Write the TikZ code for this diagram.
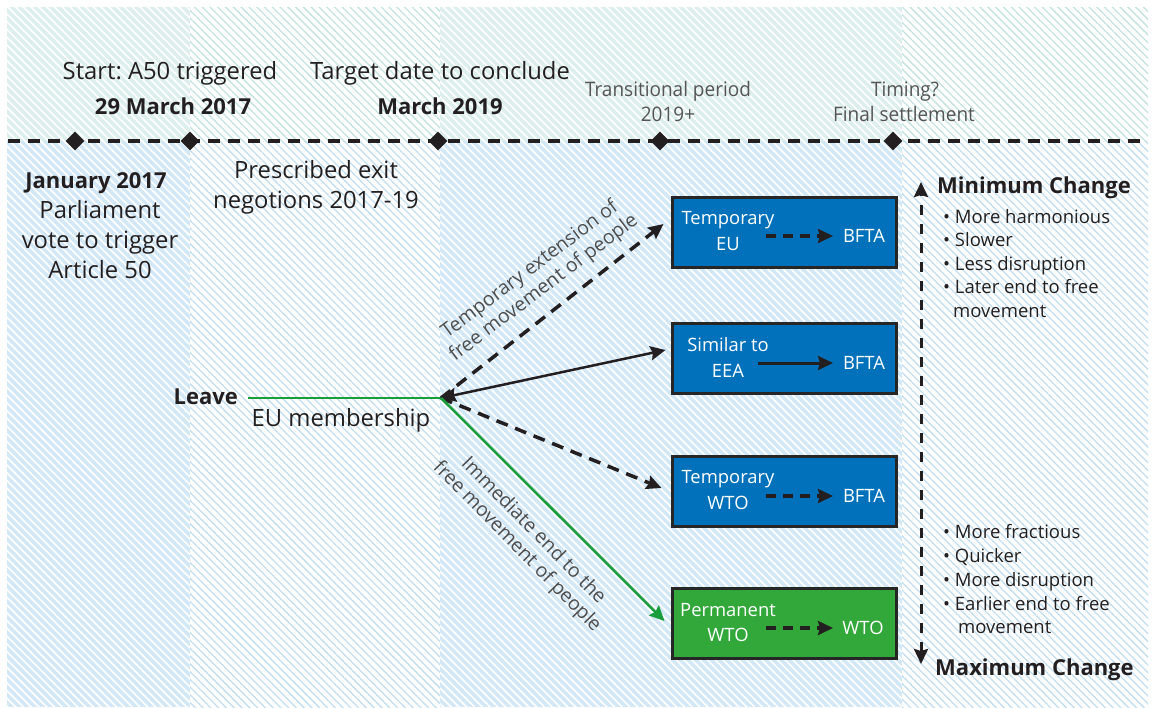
\documentclass[tikz,border=0pt]{standalone}
\usepackage{fontspec}
\setmainfont{Open Sans}
\newfontfamily\condfont[FakeStretch=0.95]{Open Sans}
\usetikzlibrary{patterns.meta,arrows.meta,shapes.geometric,calc}
\frenchspacing
\definecolor{tealbg}{HTML}{DCEFEC}
\definecolor{teall}{HTML}{C2E3DF}
\definecolor{bluebg}{HTML}{D3E8F6}
\definecolor{bluel}{HTML}{C2DEF1}
\definecolor{boxblue}{HTML}{0071BA}
\definecolor{boxgreen}{HTML}{33A83A}
\definecolor{linegreen}{HTML}{1A9E3C}
\definecolor{txt}{HTML}{231F20}
\definecolor{greytxt}{HTML}{4D4D4D}
\definecolor{condtxt}{HTML}{555555}
\definecolor{boxedge}{HTML}{262626}
\begin{document}
\begin{tikzpicture}[x=1pt,y=-1pt,
  hatchW/.style={pattern={Lines[angle=-45,distance=5.5pt,line width=1.7pt]},pattern color=white},
  hatchC/.style={pattern={Lines[angle=-45,distance=5.5pt,line width=1.3pt]},pattern color=#1},
  tx/.style={inner sep=0,text=txt,anchor=base},
  big/.style={font=\fontsize{23.8}{28}\selectfont},
  bigb/.style={font=\fontsize{22}{27}\bfseries\selectfont},
  cond/.style={font=\condfont\fontsize{20}{25}\selectfont,text=condtxt},
  inbox/.style={inner sep=0,text=white,anchor=base,font=\fontsize{18.4}{22}\selectfont},
  lst/.style={inner sep=0,text=txt,anchor=base west,font=\fontsize{18.5}{22}\selectfont},
  diag/.style={inner sep=0,text=greytxt,align=center,font=\fontsize{19.5}{23}\selectfont},
  dmd/.style={diamond,fill=txt,inner sep=0,minimum width=19pt,minimum height=19pt},
  box/.style={draw=boxedge,line width=3pt,minimum width=224pt,minimum height=70pt,inner sep=0},
  tip/.style={-{Stealth[length=15pt,width=14pt,inset=2pt]}},
  dtip/.style={{Stealth[length=15pt,width=14pt,inset=2pt]}-{Stealth[length=15pt,width=14pt,inset=2pt]}},
  dsh/.style={dash pattern=on 12pt off 8pt},
  hbold/.style={inner sep=0,text=txt,anchor=base west,font=\fontsize{22}{27}\bfseries\selectfont},
]
\useasboundingbox (0,0) rectangle (1155,707);
% backgrounds
\fill[tealbg] (7,7) rectangle (190,141);
\fill[tealbg] (440,7) rectangle (902,141);
\fill[bluebg] (7,141) rectangle (190,707);
\fill[bluebg] (440,141) rectangle (902,707);
\fill[hatchW] (7,7) rectangle (190,141);
\fill[hatchW] (440,7) rectangle (902,141);
\fill[hatchW] (7,141) rectangle (190,707);
\fill[hatchW] (440,141) rectangle (902,707);
\fill[hatchC=teall] (190,7) rectangle (440,141);
\fill[hatchC=teall] (902,7) rectangle (1148,141);
\fill[hatchC=bluel] (190,141) rectangle (440,707);
\fill[hatchC=bluel] (902,141) rectangle (1148,707);

% timeline
\coordinate (tlL) at (8,141);
\coordinate (tlR) at (1146,141);
\draw[line width=4pt,dash pattern=on 12pt off 8pt,txt] (tlL) -- (tlR);
\node[dmd] (d1) at (75,141) {};
\node[dmd] (d2) at (190,141) {};
\node[dmd] (d3) at (438,141) {};
\node[dmd] (d4) at (660,141) {};
\node[dmd] (d5) at (893,141) {};

% top labels
\node[tx,big] (start) at (170,79) {Start: A50 triggered};
\node[tx,bigb] (startd) at (173,114) {29 March 2017};
\node[tx,big] (target) at (440,79) {Target date to conclude};
\node[tx,bigb] (targetd) at (440,114) {March 2019};
\node[tx,cond] (trans) at (668,96) {Transitional period};
\node[tx,cond] (transd) at (668,121) {2019+};
\node[tx,cond] (timing) at (905,96) {Timing?};
\node[tx,cond] (final) at (904,121) {Final settlement};

% left texts
\node[tx,bigb] (jan) at (96,188) {January 2017};
\node[tx,big] (parl1) at (100,218) {Parliament};
\node[tx,big] (parl2) at (100,248) {vote to trigger};
\node[tx,big] (parl3) at (100,278) {Article 50};
\node[tx,big] (pres1) at (316,178) {Prescribed exit};
\node[tx,big] (pres2) at (316,208) {negotions 2017-19};
\node[inner sep=0,text=txt,anchor=base east,font=\fontsize{22}{27}\bfseries\selectfont] (leave) at (238,404) {Leave};
\node[tx,big] (eum) at (341,426) {EU membership};

% boxes
\node[box,fill=boxblue] (b1) at (784,232) {};
\node[box,fill=boxblue] (b2) at (784,358) {};
\node[box,fill=boxblue] (b3) at (784,491) {};
\node[box,fill=boxgreen] (b4) at (784,623) {};

\node[inbox] (b1a) at (728,224) {Temporary};
\node[inbox] (b1b) at (728,250) {EU};
\node[inbox] (b1c) at (864,242) {BFTA};
\node[inbox] (b2a) at (728,351) {Similar to};
\node[inbox] (b2b) at (728,377) {EEA};
\node[inbox] (b2c) at (864,369) {BFTA};
\node[inbox] (b3a) at (728,483) {Temporary};
\node[inbox] (b3b) at (728,509) {WTO};
\node[inbox] (b3c) at (864,502) {BFTA};
\node[inbox] (b4a) at (728,616) {Permanent};
\node[inbox] (b4b) at (728,641) {WTO};
\node[inbox] (b4c) at (863,634) {WTO};

\coordinate (a1s) at (766,236); \coordinate (a1e) at (833,236);
\coordinate (a2s) at (758,363); \coordinate (a2e) at (833,363);
\coordinate (a3s) at (766,496); \coordinate (a3e) at (833,496);
\coordinate (a4s) at (766,628); \coordinate (a4e) at (833,628);
\draw[tip,dash pattern=on 10pt off 7pt,line width=4pt,txt] (a1s) -- (a1e);
\draw[tip,line width=3pt,txt] (a2s) -- (a2e);
\draw[tip,dash pattern=on 10pt off 7pt,line width=4pt,txt] (a3s) -- (a3e);
\draw[tip,dash pattern=on 10pt off 7pt,line width=4pt,txt] (a4s) -- (a4e);

% branches
\coordinate (hub) at (441,398);
\coordinate (lstart) at (248,398);
\draw[linegreen,line width=2.5pt] (lstart) -- (hub);
\draw[tip,dsh,line width=3.5pt,txt] (hub) -- ($(b1.west)+(-7,-8)$);
\draw[dtip,line width=2.5pt,txt] (hub) -- ($(b2.west)+(-5,-8)$);
\draw[tip,dsh,line width=3.5pt,txt] (hub) -- ($(b3.west)+(-9,-3)$);
\draw[tip,line width=2.5pt,linegreen] (hub) -- ($(b4.west)+(-6,-2)$);

\node[diag,rotate=37] (lab1) at (537,279) {Temporary extension of\\free movement of people};
\node[diag,rotate=-45.5] (lab2) at (525,539) {Immediate end to the\\free movement of people};

% right scale
\coordinate (scT) at (921,182);
\coordinate (scB) at (921,664);
\draw[dtip,dash pattern=on 10pt off 9pt,line width=3pt,txt] (scB) -- (scT);
\node[hbold] (minc) at (937,193) {Minimum Change};
\node[lst] (m1) at (943,223) {• More harmonious};
\node[lst] (m2) at (943,246) {• Slower};
\node[lst] (m3) at (943,270) {• Less disruption};
\node[lst] (m4) at (943,293) {• Later end to free};
\node[lst] (m5) at (953,317) {movement};
\node[lst] (x1) at (943,538) {• More fractious};
\node[lst] (x2) at (943,562) {• Quicker};
\node[lst] (x3) at (943,586) {• More disruption};
\node[lst] (x4) at (943,610) {• Earlier end to free};
\node[lst] (x5) at (958,633) {movement};
\node[hbold] (maxc) at (935,675) {Maximum Change};
\end{tikzpicture}
\end{document}
